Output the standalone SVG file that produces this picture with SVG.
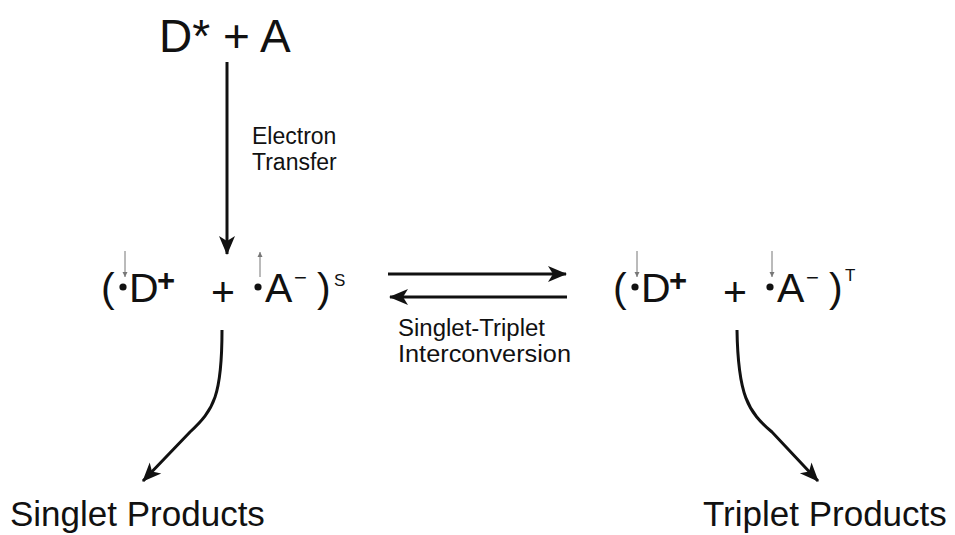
<svg xmlns="http://www.w3.org/2000/svg" width="955" height="535" viewBox="0 0 955 535">
<style>
text{font-family:"Liberation Sans",Arial,sans-serif;fill:#111}
.big{font-size:46px}
.main{font-size:41px}
.sup{font-size:31px;font-weight:bold}
.minus{font-size:22px}
.ss{font-size:17px}
.lbl{font-size:23px}
.lbl2{font-size:23px}
.prod{font-size:35px}
.conn{fill:none;stroke:#111;stroke-width:3}
.spin{fill:none;stroke:#777;stroke-width:1}
</style>
<defs>
<marker id="ah" viewBox="-20 -10 22 20" refX="0" refY="0" markerWidth="22" markerHeight="20" orient="auto" markerUnits="userSpaceOnUse">
<path d="M1,0 L-18,-8 L-13,0 L-18,8 Z" fill="#111"/>
</marker>
<marker id="sh" viewBox="-6 -4 7 8" refX="0" refY="0" markerWidth="7" markerHeight="8" orient="auto" markerUnits="userSpaceOnUse">
<path d="M0,0 L-5,-2.5 L-5,2.5 Z" fill="#777"/>
</marker>
</defs>

<g id="reactants">
<text class="big" x="159" y="52">D* + A</text>
</g>

<g id="singlet-pair">
<text class="main" x="101" y="302">(</text>
<circle cx="123" cy="287" r="3.6" fill="#111"/>
<line class="spin" x1="125" y1="251" x2="125" y2="277" marker-end="url(#sh)"/>
<text class="main" x="129" y="302">D</text>
<text class="sup" x="157" y="291">+</text>
<text class="main" x="211" y="306">+</text>
<circle cx="258" cy="287" r="3.6" fill="#111"/>
<line class="spin" x1="260" y1="277" x2="260" y2="252" marker-end="url(#sh)"/>
<text class="main" x="265" y="302">A</text>
<text class="minus" x="294" y="285">−</text>
<text class="main" x="317" y="302">)</text>
<text class="ss" x="334" y="286">S</text>
</g>

<g id="triplet-pair">
<text class="main" x="613" y="302">(</text>
<circle cx="635" cy="287" r="3.6" fill="#111"/>
<line class="spin" x1="637" y1="251" x2="637" y2="277" marker-end="url(#sh)"/>
<text class="main" x="641" y="302">D</text>
<text class="sup" x="669" y="291">+</text>
<text class="main" x="723" y="306">+</text>
<circle cx="770" cy="287" r="3.6" fill="#111"/>
<line class="spin" x1="772" y1="251" x2="772" y2="277" marker-end="url(#sh)"/>
<text class="main" x="777" y="302">A</text>
<text class="minus" x="806" y="285">−</text>
<text class="main" x="829" y="302">)</text>
<text class="ss" x="845" y="281">T</text>
</g>

<g id="singlet-products">
<text class="prod" x="10" y="526">Singlet Products</text>
</g>

<g id="triplet-products">
<text class="prod" x="703" y="526">Triplet Products</text>
</g>

<g id="connectors">
<line class="conn" x1="227" y1="62" x2="227" y2="254" marker-end="url(#ah)"/>
<text class="lbl" x="252" y="144">Electron</text>
<text class="lbl" x="252" y="170">Transfer</text>
<line class="conn" x1="388" y1="274" x2="566" y2="274" marker-end="url(#ah)"/>
<line class="conn" x1="567" y1="297" x2="390" y2="297" marker-end="url(#ah)"/>
<text class="lbl2" x="398" y="336" textLength="147" lengthAdjust="spacingAndGlyphs">Singlet-Triplet</text>
<text class="lbl2" x="398" y="362" textLength="173" lengthAdjust="spacingAndGlyphs">Interconversion</text>
<path class="conn" d="M222,330 C222,395 214,410 190,432 L143,481" marker-end="url(#ah)"/>
<path class="conn" d="M737,330 C738,395 748,412 772,432 L818,481" marker-end="url(#ah)"/>
</g>
</svg>
